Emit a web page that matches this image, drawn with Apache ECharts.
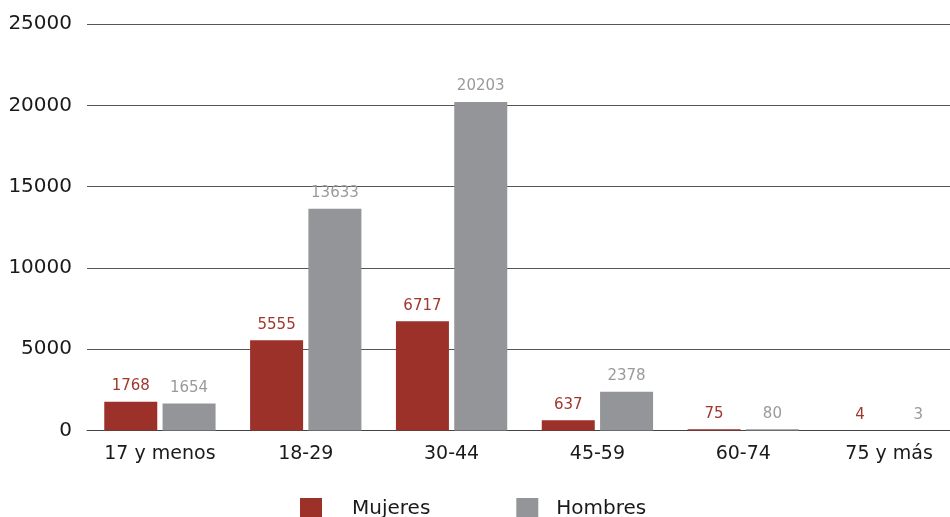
<!DOCTYPE html>
<html>
<head>
<meta charset="utf-8">
<script src="https://cdn.jsdelivr.net/npm/echarts@6/dist/echarts.min.js"></script>
<style>
  html, body { margin: 0; padding: 0; background: #fff; }
  #chart { width: 950px; height: 517px; }
</style>
</head>
<body>
<div id="chart"></div>
<script>
// Age groups and counts by sex
const categories = ['17 y menos', '18-29', '30-44', '45-59', '60-74', '75 y más'];
const mujeres = [1768, 5555, 6717, 637, 75, 4];
const hombres = [1654, 13633, 20203, 2378, 80, 3];
const yTicks = [0, 5000, 10000, 15000, 20000, 25000];

const RED = '#9b3129';
const GREY = '#939598';
const FONT = '"DejaVu Sans", sans-serif';

const chart = echarts.init(document.getElementById('chart'));
chart.setOption({
  animation: false,
  textStyle: { fontFamily: FONT },
  grid: {
    left: 87, width: 875, top: 24, bottom: 86.5,
    containLabel: false, outerBoundsMode: 'none'
  },
  legend: {
    bottom: -8,
    left: 295,
    itemWidth: 22,
    itemHeight: 22,
    itemGap: 86,
    icon: 'rect',
    textStyle: { fontSize: 20, color: '#1a1a1a', fontFamily: FONT },
    data: [
      { name: 'Mujeres', textStyle: { padding: [0, 0, 0, 25] } },
      { name: 'Hombres', textStyle: { padding: [0, 0, 0, 13] } }
    ]
  },
  xAxis: {
    type: 'category',
    data: categories,
    axisLine: { show: true, lineStyle: { color: '#444', width: 1 } },
    axisTick: { show: false },
    axisLabel: { interval: 0, fontSize: 19, color: '#1a1a1a', margin: 14, fontFamily: FONT }
  },
  yAxis: {
    type: 'value',
    min: 0,
    max: 25000,
    interval: 5000,
    axisLine: { show: false },
    axisTick: { show: false },
    axisLabel: {
      fontSize: 20, color: '#1a1a1a', margin: 15, fontFamily: FONT,
      formatter: v => yTicks.includes(v) ? String(v) : ''
    },
    splitLine: { show: true, lineStyle: { color: '#555', width: 1 } }
  },
  series: [
    {
      name: 'Mujeres',
      type: 'bar',
      data: mujeres,
      barWidth: 53,
      barGap: '10%',
      itemStyle: { color: RED },
      label: { show: true, position: 'top', distance: 8, fontSize: 15, color: '#a0382f', fontFamily: FONT }
    },
    {
      name: 'Hombres',
      type: 'bar',
      data: hombres,
      barWidth: 53,
      barGap: '10%',
      itemStyle: { color: GREY },
      label: { show: true, position: 'top', distance: 8, fontSize: 15, color: '#9a9a9c', fontFamily: FONT }
    }
  ]
});
</script>
</body>
</html>
